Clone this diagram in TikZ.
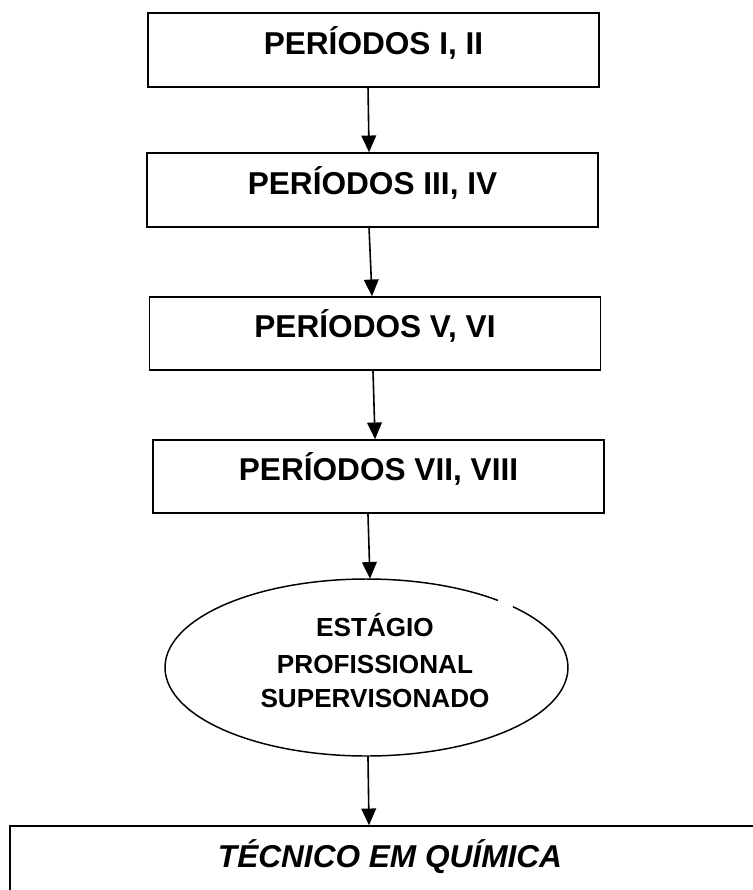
\documentclass[tikz,border=0pt]{standalone}
\usepackage{fontspec}
\setmainfont{Liberation Sans}
\usetikzlibrary{arrows.meta,shapes.geometric}
\begin{document}
\begin{tikzpicture}[x=0.75pt,y=-0.75pt,
  box/.style={draw=black,line width=1.2pt,rectangle,inner sep=0pt,
    minimum width=338pt,minimum height=55.5pt,text height=12pt,text depth=6pt,
    font=\fontsize{23.7pt}{28pt}\selectfont\bfseries},
  arr/.style={draw=black,line width=1.2pt,-{Triangle[length=12.5pt,width=11pt]}},
  etext/.style={anchor=base,inner sep=0pt,font=\fontsize{19.6pt}{24pt}\selectfont\bfseries}]
\useasboundingbox (0,0) rectangle (753,890);
\clip (0,0) rectangle (753,890);
\node[box] (B1) at (373.5,50) {PERÍODOS I, II};
\node[box] (B2) at (372.5,190) {PERÍODOS III, IV};
\node[box,minimum height=54.75pt] (B3) at (375,333.5) {PERÍODOS V, VI};
\node[box,minimum height=54.75pt] (B4) at (378.5,476.5) {PERÍODOS VII, VIII};
\node[ellipse,draw=none,inner sep=0pt,minimum width=302.25pt,minimum height=132.75pt] (E) at (366.5,667.5) {};
\draw[line width=1.1pt] ([shift={(49.3:151.125pt and 66.375pt)}]E.center)
  arc[start angle=49.3,end angle=403.4,x radius=151.125pt,y radius=66.375pt];
\node[etext] (T1) at (375,636) {ESTÁGIO};
\node[etext] (T2) at (375,673) {PROFISSIONAL};
\node[etext] (T3) at (375,707) {SUPERVISONADO};
\node[box,minimum width=570pt,minimum height=75pt,text height=12pt,text depth=25.5pt,
  font=\fontsize{23.7pt}{28pt}\selectfont\bfseries\itshape] (B5) at (390,876) {TÉCNICO EM QUÍMICA};
\draw[arr] ([xshift=-4.1pt]B1.south) -- ([xshift=-2.6pt]B2.north);
\draw[arr] ([xshift=-2.6pt]B2.south) -- ([xshift=-2.25pt]B3.north);
\draw[arr] ([xshift=-1.5pt]B3.south) -- ([xshift=-2.6pt]B4.north);
\draw[arr] ([xshift=-7.9pt]B4.south) -- ([xshift=2.6pt]E.north);
\draw[arr] ([xshift=1.1pt]E.south) -- ([xshift=-15.75pt]B5.north);
\end{tikzpicture}
\end{document}
